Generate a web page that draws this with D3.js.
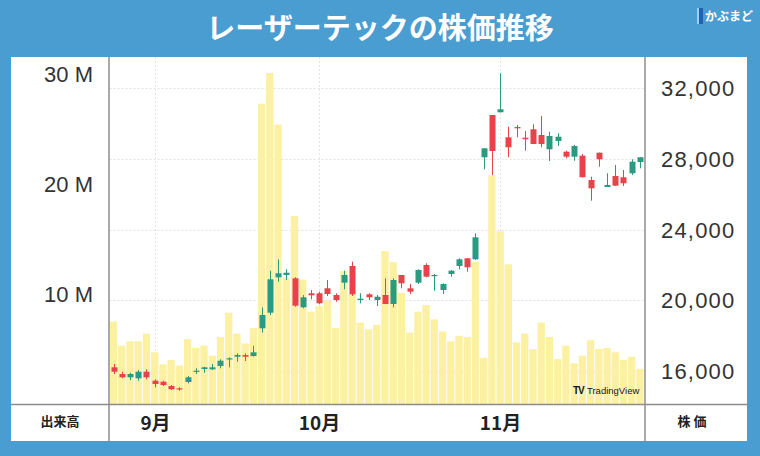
<!DOCTYPE html>
<html>
<head>
<meta charset="utf-8">
<script src="https://cdn.jsdelivr.net/npm/d3@7"></script>
<style>
html,body{margin:0;padding:0;background:#4a9dd0;}
svg{display:block;}
</style>
</head>
<body>
<svg id="chart" width="760" height="456"></svg>
<script>
// ---- data ----
const monthOfBar = [].concat(
  Array(5).fill(8), Array(20).fill(9), Array(22).fill(10), Array(18).fill(11)
);
const openP  = [16209,15830,15644,15587,15960,15452,15395,15152,15021,15378,15960,16113,16094,16283,16662,16809,16900,16848,18414,19296,21298,21428,21241,19602,20393,20393,20676,20297,20993,21937,20014,20337,20014,20297,19788,21428,20676,20993,21993,21370,20580,21484,21937,22372,22316,28083,30474,30627,29213,29796,29190,29663,29343,28535,29004,28399,28117,28173,26799,28343,26404,27025,26952,27178,27817];
const highP  = [16396,15960,15904,16057,16094,15530,15452,15208,15078,15717,16153,16243,16396,16662,16775,16999,16999,17430,19602,21671,22316,21750,21298,20297,20580,20484,21145,20393,21671,22180,20393,20393,20297,21241,21241,21428,20919,21750,22090,21485,20958,21710,22372,22372,23786,28591,30474,32832,29813,29909,29570,29946,30418,29530,29439,28456,28778,28269,26986,28343,27178,27647,27365,27970,28083];
const lowP   = [15830,15587,15491,15452,15530,15078,15152,14926,14886,15304,15830,15904,16057,16153,16209,16526,16565,16810,18166,19166,21049,21145,19636,19545,20054,19771,20241,19918,20619,20241,19828,20014,19675,19788,19602,20676,20354,20919,21298,20540,20354,21332,21750,21614,22276,27404,27082,30627,28083,29213,28456,28835,28648,27873,28722,28027,27890,26952,25629,27550,26404,26460,26460,27082,27460];
const closeP = [15960,15644,15830,15960,15644,15265,15208,14965,14965,15644,16017,16209,16209,16582,16718,16905,16810,17055,19166,21185,21524,21558,19692,20167,20280,19828,20354,20014,21428,20337,20088,20167,20200,19788,21145,20958,20484,21710,21332,21428,20919,21671,22316,21863,23560,28591,28439,30797,28648,29720,29100,28835,28835,29287,29248,28117,28722,26952,26330,27970,26517,26478,26613,27834,28083];
const volumeM = [7.5,5.3,5.7,5.7,6.4,4.7,3.6,4.0,3.5,5.9,5.1,5.3,4.4,6.1,8.3,6.4,5.5,6.9,27.3,30.1,25.4,11.5,17.1,11.3,8.4,8.9,9.4,6.9,12.1,10.0,7.4,6.8,7.2,13.9,12.9,10.1,6.5,8.4,9.0,7.7,6.6,5.7,6.2,6.1,12.9,4.2,20.8,15.7,12.7,5.6,6.4,5.0,7.4,6.1,4.1,5.3,3.7,4.4,5.8,5.0,5.1,4.7,4.0,4.3,3.2];
const priceTicks = [16000,20000,24000,28000,32000];
const volumeTicks = [10,20,30];
const monthLabels = {9:"9月",10:"10月",11:"11月"};
const titleText = "レーザーテックの株価推移";

// ---- layout ----
const W = 760, H = 456;
const panel = {x:11, y:57, w:736, h:384};
const plot = {left:109.5, right:644, top:57, bottom:404};

const svg = d3.select("#chart");
svg.append("rect").attr("width",W).attr("height",H).attr("fill","#4a9dd0");
svg.append("rect").attr("x",panel.x).attr("y",panel.y).attr("width",panel.w).attr("height",panel.h).attr("fill","#ffffff");

// title
svg.append("text").attr("x",380).attr("y",39).attr("text-anchor","middle")
  .attr("font-family","'Noto Sans CJK JP',sans-serif").attr("font-weight","700")
  .attr("font-size",29).attr("fill","#ffffff").text(titleText);

// logo
const logo = svg.append("g");
logo.append("rect").attr("x",697).attr("y",8).attr("width",6).attr("height",16).attr("fill","#1d63b0");
logo.append("rect").attr("x",697).attr("y",8).attr("width",2).attr("height",16).attr("fill","#9fd0f2");
logo.append("text").attr("x",705).attr("y",21).attr("font-family","'Noto Sans CJK JP',sans-serif")
  .attr("font-size",12).attr("font-weight","700").attr("fill","#ffffff").text("かぶまど");

const idx = d3.range(openP.length);
const x = d3.scaleBand().domain(idx).range([plot.left, plot.right]).paddingInner(0.11).paddingOuter(0.05);
const yP = d3.scaleLinear().domain([16000, 32000]).range([371, 88]);
const yV = d3.scaleLinear().domain([0, 30]).range([404, 74]);

const g = svg.append("g");
g.append("clipPath").attr("id","clip").append("rect")
  .attr("x",plot.left).attr("y",plot.top).attr("width",plot.right-plot.left).attr("height",plot.bottom-plot.top);

// grid
const grid = g.append("g").attr("clip-path","url(#clip)");
grid.selectAll(".hg").data(priceTicks).join("line")
  .attr("x1",plot.left).attr("x2",plot.right)
  .attr("y1",d=>Math.round(yP(d))+0.5).attr("y2",d=>Math.round(yP(d))+0.5)
  .attr("stroke","#e3e3e3").attr("stroke-dasharray","2,2");
const monthStarts = idx.filter(i => i>0 && monthOfBar[i] !== monthOfBar[i-1]);
grid.selectAll(".vg").data(monthStarts).join("line")
  .attr("x1",i=>Math.round(x(i)+x.bandwidth()/2)+0.5).attr("x2",i=>Math.round(x(i)+x.bandwidth()/2)+0.5)
  .attr("y1",plot.top).attr("y2",plot.bottom)
  .attr("stroke","#e3e3e3").attr("stroke-dasharray","2,2");

// volume bars
const marks = g.append("g").attr("clip-path","url(#clip)");
marks.selectAll(".vol").data(idx).join("rect")
  .attr("x",i=>x(i)).attr("width",x.bandwidth())
  .attr("y",i=>yV(volumeM[i])).attr("height",i=>yV(0)-yV(volumeM[i]))
  .attr("fill","#fcf1a3");

// candles
const up = "#2a9a80", down = "#e8424a";
const col = i => closeP[i] >= openP[i] ? up : down;
const cx = i => Math.round(x(i)+x.bandwidth()/2)+0.5;
marks.selectAll(".wick").data(idx).join("line")
  .attr("x1",cx).attr("x2",cx)
  .attr("y1",i=>yP(highP[i])).attr("y2",i=>yP(lowP[i]))
  .attr("stroke",col).attr("stroke-width",1);
const bw = 6;
marks.selectAll(".body").data(idx).join("rect")
  .attr("x",i=>cx(i)-bw/2).attr("width",bw)
  .attr("y",i=>yP(Math.max(openP[i],closeP[i])))
  .attr("height",i=>Math.max(1.2, Math.abs(yP(openP[i])-yP(closeP[i]))))
  .attr("fill",col);

// axes
const leftAxis = d3.axisLeft(yV).tickValues(volumeTicks).tickFormat(d=>d+" M").tickSize(0).tickPadding(0);
const la = svg.append("g").attr("transform","translate(93,0)").call(leftAxis);
la.select(".domain").remove();
la.selectAll("text").attr("font-family","'Liberation Sans',Arial,sans-serif").attr("font-size",22).attr("fill","#333").attr("dy","0.35em");

const rightAxis = d3.axisRight(yP).tickValues(priceTicks).tickFormat(d3.format(",")).tickSize(0).tickPadding(0);
const ra = svg.append("g").attr("transform","translate(661,0)").call(rightAxis);
ra.select(".domain").remove();
ra.selectAll("text").attr("font-family","'Liberation Sans',Arial,sans-serif").attr("font-size",22).attr("fill","#333").attr("letter-spacing","1.2px").attr("dy","0.35em");

// bottom month labels
const labelIdx = [5].concat(monthStarts).filter((v,k,a)=>a.indexOf(v)===k && monthLabels[monthOfBar[v]]);
svg.append("g").selectAll("text").data(labelIdx).join("text")
  .attr("x",i=>cx(i)).attr("y",423).attr("dy","0.35em").attr("text-anchor","middle")
  .attr("font-family","'Noto Sans CJK JP',sans-serif").attr("font-weight","700").attr("font-size",19).attr("fill","#222")
  .text(i=>monthLabels[monthOfBar[i]]);

svg.append("text").attr("x",60).attr("y",421).attr("dy","0.35em").attr("text-anchor","middle")
  .attr("font-family","'Noto Sans CJK JP',sans-serif").attr("font-weight","700").attr("font-size",13).attr("fill","#222").text("出来高");
svg.append("text").attr("x",692).attr("y",421).attr("dy","0.35em").attr("text-anchor","middle")
  .attr("font-family","'Noto Sans CJK JP',sans-serif").attr("font-weight","700").attr("font-size",13).attr("fill","#222").text("株 価");

// frame lines
const fl = svg.append("g").attr("stroke","#8c8c8c").attr("stroke-width",1.5);
fl.append("line").attr("x1",109).attr("x2",109).attr("y1",panel.y).attr("y2",panel.y+panel.h);
fl.append("line").attr("x1",645).attr("x2",645).attr("y1",panel.y).attr("y2",panel.y+panel.h);
fl.append("line").attr("x1",panel.x).attr("x2",panel.x+panel.w).attr("y1",404.5).attr("y2",404.5);

// TradingView mark
const tv = svg.append("g");
tv.append("text").attr("x",573).attr("y",394).attr("font-family","'Liberation Sans',Arial,sans-serif")
  .attr("font-weight","900").attr("font-size",10).attr("letter-spacing","-1px").attr("fill","#131722").text("TV");
tv.append("text").attr("x",587).attr("y",394).attr("font-family","'Liberation Sans',Arial,sans-serif")
  .attr("font-size",9.5).attr("fill","#131722").text("TradingView");
</script>
</body>
</html>
